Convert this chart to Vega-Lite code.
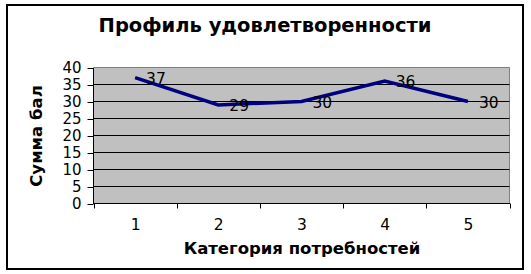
{
  "$schema": "https://vega.github.io/schema/vega-lite/v6.json",
  "width": 516,
  "height": 264,
  "autosize": {"type": "none"},
  "padding": {"left": 7, "top": 5, "right": 8, "bottom": 5},
  "background": "white",
  "config": {
    "view": {"stroke": "black", "strokeWidth": 2, "fill": "white"},
    "font": "DejaVu Sans",
    "axis": {"labelOverlap": false, "labelFlush": false, "grid": false, "labelBound": false}
  },
  "title": {
    "text": "Профиль удовлетворенности",
    "font": "DejaVu Sans",
    "fontSize": 19.5,
    "fontWeight": "bold",
    "color": "black",
    "anchor": "middle",
    "frame": "group",
    "offset": -31
  },
  "datasets": {
    "scores": [
      {"cat": 1, "value": 37},
      {"cat": 2, "value": 29},
      {"cat": 3, "value": 30},
      {"cat": 4, "value": 36},
      {"cat": 5, "value": 30}
    ],
    "grid": [
      {"level": 5}, {"level": 10}, {"level": 15}, {"level": 20},
      {"level": 25}, {"level": 30}, {"level": 35}
    ],
    "plot": [{"area": "plot"}]
  },
  "layer": [
    {
      "data": {"name": "plot"},
      "mark": {"type": "rect", "fill": "#C0C0C0", "stroke": "#808080", "strokeWidth": 1},
      "encoding": {
        "x": {"datum": 0.5, "type": "quantitative",
          "scale": {"domain": [0.5, 5.5], "range": [86.5, 502.5], "nice": false, "zero": false},
          "axis": {"title": "Категория потребностей", "values": [0.5, 1.5, 2.5, 3.5, 4.5, 5.5],
            "labelExpr": "datum.value < 5 ? format(datum.value + 0.5, 'd') : ''",
            "labelOffset": 41.6, "labelFlush": false, "labelOverlap": false, "grid": false,
            "offset": -66, "domainColor": "black", "domainWidth": 1, "tickColor": "black", "tickSize": 5,
            "labelFont": "DejaVu Sans", "labelFontSize": 15.5, "labelColor": "black", "labelPadding": 9,
            "titleFont": "DejaVu Sans", "titleFontSize": 16.5, "titleFontWeight": "bold", "titleColor": "black",
            "titlePadding": 8, "zindex": 1}},
        "x2": {"datum": 5.5},
        "y": {"datum": 0, "type": "quantitative",
          "scale": {"domain": [0, 40], "range": [198.5, 62.5], "nice": false, "zero": true},
          "axis": {"title": "Сумма бал", "values": [0, 5, 10, 15, 20, 25, 30, 35, 40], "grid": false,
            "labelOverlap": false, "labelFlush": false,
            "offset": -86, "domainColor": "black", "domainWidth": 1, "tickColor": "black", "tickSize": 6,
            "labelFont": "DejaVu Sans", "labelFontSize": 15, "labelColor": "black", "labelPadding": 6,
            "titleFont": "DejaVu Sans", "titleFontSize": 16.5, "titleFontWeight": "bold", "titleColor": "black",
            "titlePadding": 17, "zindex": 1}},
        "y2": {"datum": 40}
      }
    },
    {
      "data": {"name": "grid"},
      "mark": {"type": "rule", "color": "black", "strokeWidth": 1},
      "encoding": {
        "x": {"datum": 0.5, "type": "quantitative"},
        "x2": {"datum": 5.5},
        "y": {"field": "level", "type": "quantitative",
          "axis": {"title": "Сумма бал", "values": [0, 5, 10, 15, 20, 25, 30, 35, 40], "grid": false,
            "labelOverlap": false, "labelFlush": false,
            "offset": -86, "domainColor": "black", "domainWidth": 1, "tickColor": "black", "tickSize": 6,
            "labelFont": "DejaVu Sans", "labelFontSize": 15, "labelColor": "black", "labelPadding": 6,
            "titleFont": "DejaVu Sans", "titleFontSize": 16.5, "titleFontWeight": "bold", "titleColor": "black",
            "titlePadding": 17, "zindex": 1}}
      }
    },
    {
      "data": {"name": "scores"},
      "mark": {"type": "line", "color": "#000080", "strokeWidth": 3.5},
      "encoding": {
        "x": {"field": "cat", "type": "quantitative",
          "axis": {"title": "Категория потребностей", "values": [0.5, 1.5, 2.5, 3.5, 4.5, 5.5],
            "labelExpr": "datum.value < 5 ? format(datum.value + 0.5, 'd') : ''",
            "labelOffset": 41.6, "labelFlush": false, "labelOverlap": false, "grid": false,
            "offset": -66, "domainColor": "black", "domainWidth": 1, "tickColor": "black", "tickSize": 5,
            "labelFont": "DejaVu Sans", "labelFontSize": 15.5, "labelColor": "black", "labelPadding": 9,
            "titleFont": "DejaVu Sans", "titleFontSize": 16.5, "titleFontWeight": "bold", "titleColor": "black",
            "titlePadding": 8, "zindex": 1}},
        "y": {"field": "value", "type": "quantitative",
          "axis": {"title": "Сумма бал", "values": [0, 5, 10, 15, 20, 25, 30, 35, 40], "grid": false,
            "labelOverlap": false, "labelFlush": false,
            "offset": -86, "domainColor": "black", "domainWidth": 1, "tickColor": "black", "tickSize": 6,
            "labelFont": "DejaVu Sans", "labelFontSize": 15, "labelColor": "black", "labelPadding": 6,
            "titleFont": "DejaVu Sans", "titleFontSize": 16.5, "titleFontWeight": "bold", "titleColor": "black",
            "titlePadding": 17, "zindex": 1}}
      }
    },
    {
      "data": {"name": "scores"},
      "mark": {"type": "text", "align": "left", "baseline": "middle", "dx": 11, "dy": 1, "font": "DejaVu Sans", "fontSize": 15.5, "color": "black"},
      "encoding": {
        "x": {"field": "cat", "type": "quantitative",
          "axis": {"title": "Категория потребностей", "values": [0.5, 1.5, 2.5, 3.5, 4.5, 5.5],
            "labelExpr": "datum.value < 5 ? format(datum.value + 0.5, 'd') : ''",
            "labelOffset": 41.6, "labelFlush": false, "labelOverlap": false, "grid": false,
            "offset": -66, "domainColor": "black", "domainWidth": 1, "tickColor": "black", "tickSize": 5,
            "labelFont": "DejaVu Sans", "labelFontSize": 15.5, "labelColor": "black", "labelPadding": 9,
            "titleFont": "DejaVu Sans", "titleFontSize": 16.5, "titleFontWeight": "bold", "titleColor": "black",
            "titlePadding": 8, "zindex": 1}},
        "y": {"field": "value", "type": "quantitative",
          "axis": {"title": "Сумма бал", "values": [0, 5, 10, 15, 20, 25, 30, 35, 40], "grid": false,
            "labelOverlap": false, "labelFlush": false,
            "offset": -86, "domainColor": "black", "domainWidth": 1, "tickColor": "black", "tickSize": 6,
            "labelFont": "DejaVu Sans", "labelFontSize": 15, "labelColor": "black", "labelPadding": 6,
            "titleFont": "DejaVu Sans", "titleFontSize": 16.5, "titleFontWeight": "bold", "titleColor": "black",
            "titlePadding": 17, "zindex": 1}},
        "text": {"field": "value", "type": "quantitative"}
      }
    }
  ]
}
